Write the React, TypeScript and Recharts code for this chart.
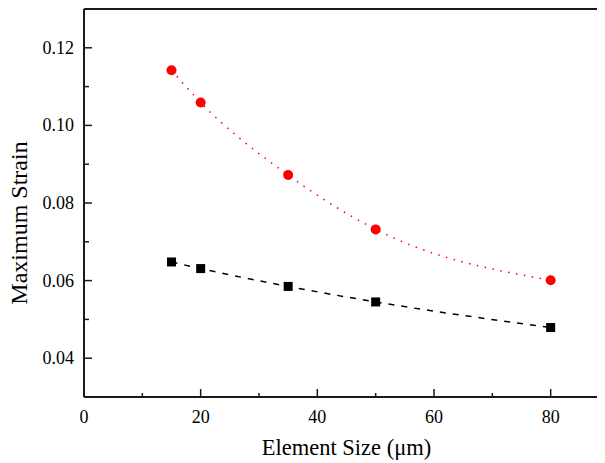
import { LineChart, Line, XAxis, YAxis, ReferenceLine, Label } from 'recharts'

const elementSize = [15, 20, 35, 50, 80]
const strainRed = [0.1142, 0.1059, 0.0872, 0.0732, 0.0601]
const strainBlack = [0.0648, 0.0631, 0.0585, 0.0545, 0.0479]

const xTicks = [0, 10, 20, 30, 40, 50, 60, 70, 80, 90]
const yTicks = [0.04, 0.05, 0.06, 0.07, 0.08, 0.09, 0.1, 0.11, 0.12]

const data = elementSize.map((x, i) => ({ x, red: strainRed[i], black: strainBlack[i] }))

const FONT = 'Liberation Serif, Tinos, serif'
const AXIS = '#1a1a1a'

function XTick({ x, y, payload }: any) {
  const major = payload.value % 20 === 0
  return (
    <g>
      <line x1={x} x2={x} y1={y} y2={y - (major ? 8 : 4)} stroke={AXIS} strokeWidth={1.5} />
      {major && (
        <text x={x} y={y + 26} textAnchor="middle" fontSize={18} fontFamily={FONT} fill="#000">
          {payload.value}
        </text>
      )}
    </g>
  )
}

function YTick({ x, y, payload }: any) {
  const major = Math.round(payload.value * 100) % 2 === 0
  return (
    <g>
      <line x1={x} x2={x + (major ? 8 : 5)} y1={y} y2={y} stroke={AXIS} strokeWidth={1.5} />
      {major && (
        <text x={x - 10} y={y + 6} textAnchor="end" fontSize={18} fontFamily={FONT} fill="#000">
          {payload.value.toFixed(2)}
        </text>
      )}
    </g>
  )
}

const redDot = ({ cx, cy, index }: any) => <circle key={`r-${index}`} cx={cx} cy={cy} r={5} fill="#ff0000" />
const blackDot = ({ cx, cy, index }: any) => (
  <rect key={`b-${index}`} x={cx - 4.5} y={cy - 4.5} width={9} height={9} fill="#000" />
)

export default function App() {
  return (
    <div style={{ width: 605, height: 463, overflow: 'hidden', margin: '-8px 0 0 -8px' }}>
      <LineChart width={609} height={463} data={data} margin={{ top: 9, right: 0, bottom: 6, left: 8 }}>
        <XAxis
          dataKey="x"
          type="number"
          domain={[0, 90]}
          ticks={xTicks}
          interval={0}
          height={60}
          tickSize={0}
          tickMargin={0}
          tickLine={false}
          axisLine={{ stroke: AXIS, strokeWidth: 2 }}
          tick={<XTick />}
        >
          <Label
            content={({ viewBox }: any) => (
              <text
                x={viewBox.x + viewBox.width / 2}
                y={viewBox.y + 58}
                textAnchor="middle"
                fontSize={22.5}
                fontFamily={FONT}
                fill="#000"
              >
                Element Size (μm)
              </text>
            )}
          />
        </XAxis>
        <YAxis
          type="number"
          domain={[0.03, 0.13]}
          ticks={yTicks}
          interval={0}
          width={76}
          tickSize={0}
          tickMargin={0}
          tickLine={false}
          axisLine={{ stroke: AXIS, strokeWidth: 2 }}
          tick={<YTick />}
        >
          <Label
            content={({ viewBox }: any) => {
              const cx = viewBox.x + 19
              const cy = viewBox.y + viewBox.height / 2 + 20
              return (
                <text
                  x={cx}
                  y={cy}
                  transform={`rotate(-90, ${cx}, ${cy})`}
                  textAnchor="middle"
                  fontSize={24}
                  fontFamily={FONT}
                  fill="#000"
                >
                  Maximum Strain
                </text>
              )
            }}
          />
        </YAxis>
        <ReferenceLine y={0.13} stroke={AXIS} strokeWidth={2} />
        <Line
          type="monotone"
          dataKey="red"
          stroke="#ff0000"
          strokeWidth={1.5}
          strokeDasharray="1.5 6.5"
          dot={redDot}
          isAnimationActive={false}
        />
        <Line
          type="monotone"
          dataKey="black"
          stroke="#000"
          strokeWidth={1.5}
          strokeDasharray="6 7"
          dot={blackDot}
          isAnimationActive={false}
        />
      </LineChart>
    </div>
  )
}
